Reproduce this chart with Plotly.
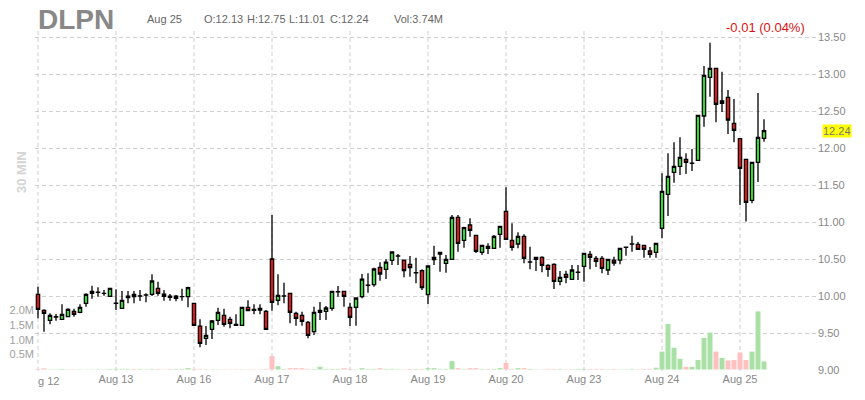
import plotly.graph_objects as go

# ---------------- data ----------------
days = ["Aug 12", "Aug 13", "Aug 16", "Aug 17", "Aug 18", "Aug 19", "Aug 20", "Aug 23", "Aug 24", "Aug 25"]
bars_per_day = [13, 13, 13, 13, 13, 13, 13, 13, 13, 5]
times = ["09:30", "10:00", "10:30", "11:00", "11:30", "12:00", "12:30",
         "13:00", "13:30", "14:00", "14:30", "15:00", "15:30"]

opens = [
    10.024, 9.807, 9.672, 9.717, 9.686, 9.722, 9.794, 9.780, 9.902, 10.037, 10.050, 10.036, 9.997,
    9.901, 9.834, 9.979, 10.024, 10.000, 10.015, 10.024, 10.105, 10.028, 10.001, 9.970, 9.992, 9.992,
    9.902, 9.595, 9.429, 9.550, 9.672, 9.740, 9.686, 9.618, 9.604, 9.848, 9.821, 9.834, 9.794,
    10.502, 9.943, 10.000, 10.037, 9.767, 9.740, 9.645, 9.519, 9.780, 9.794, 9.834, 10.059, 10.065,
    9.848, 9.848, 9.992, 10.145, 10.155, 10.389, 10.362, 10.484, 10.542, 10.488, 10.430, 10.316, 10.344,
    10.019, 10.493, 10.570, 10.443, 10.498, 11.066, 10.755, 10.962, 10.822, 10.592, 10.673, 10.646, 10.836,
    11.147, 10.755, 10.705, 10.809, 10.460, 10.498, 10.525, 10.416, 10.430, 10.200, 10.295, 10.227, 10.321,
    10.403, 10.565, 10.511, 10.511, 10.353, 10.488, 10.488, 10.659, 10.704, 10.700, 10.687, 10.610, 10.592,
    10.917, 11.377, 11.675, 11.756, 11.851, 11.796, 11.837, 12.437, 12.960, 13.082, 12.609, 12.690, 12.338,
    12.130, 11.851, 11.296, 11.810, 12.135,
]
highs = [
    10.128, 9.821, 9.767, 9.758, 9.889, 9.834, 9.830, 9.889, 10.037, 10.141, 10.119, 10.083, 10.114,
    10.092, 10.069, 10.069, 10.069, 10.083, 10.037, 10.295, 10.195, 10.083, 10.028, 10.015, 10.101, 10.128,
    9.911, 9.686, 9.595, 9.677, 9.843, 9.830, 9.722, 9.753, 9.857, 9.943, 9.889, 9.889, 9.812,
    11.097, 10.295, 10.182, 10.040, 9.789, 9.789, 9.663, 9.857, 9.920, 9.866, 10.068, 10.137, 10.068,
    9.911, 9.977, 10.299, 10.308, 10.385, 10.457, 10.498, 10.606, 10.570, 10.490, 10.543, 10.520, 10.362,
    10.416, 10.682, 10.601, 10.556, 11.097, 11.097, 10.940, 11.052, 10.825, 10.690, 10.714, 10.827, 10.953,
    11.472, 10.985, 10.863, 10.836, 10.669, 10.528, 10.538, 10.430, 10.443, 10.340, 10.344, 10.421, 10.421,
    10.582, 10.610, 10.543, 10.543, 10.500, 10.534, 10.649, 10.669, 10.818, 10.732, 10.690, 10.664, 10.717,
    11.661, 11.932, 12.081, 12.148, 11.932, 11.991, 12.450, 13.114, 13.429, 13.085, 13.037, 12.789, 12.667,
    12.135, 11.855, 11.815, 12.750, 12.392,
]
lows = [
    9.699, 9.519, 9.618, 9.668, 9.677, 9.713, 9.722, 9.767, 9.857, 9.965, 9.992, 10.006, 9.992,
    9.812, 9.830, 9.902, 9.902, 9.934, 9.916, 10.001, 10.006, 9.938, 9.938, 9.929, 9.938, 9.848,
    9.595, 9.307, 9.338, 9.419, 9.609, 9.586, 9.564, 9.595, 9.595, 9.800, 9.753, 9.753, 9.541,
    9.803, 9.875, 9.902, 9.631, 9.600, 9.600, 9.429, 9.474, 9.677, 9.677, 9.803, 9.992, 9.857,
    9.595, 9.600, 9.970, 10.046, 10.128, 10.209, 10.231, 10.421, 10.421, 10.254, 10.263, 10.173, 10.083,
    9.893, 10.421, 10.331, 10.317, 10.488, 10.601, 10.655, 10.804, 10.583, 10.556, 10.570, 10.637, 10.655,
    10.759, 10.615, 10.646, 10.443, 10.362, 10.340, 10.322, 10.263, 10.096, 10.146, 10.173, 10.225, 10.218,
    10.195, 10.362, 10.394, 10.308, 10.286, 10.412, 10.430, 10.547, 10.601, 10.624, 10.520, 10.520, 10.520,
    10.782, 11.084, 11.535, 11.639, 11.652, 11.693, 11.833, 12.293, 12.699, 12.351, 12.491, 12.194, 12.081,
    11.233, 11.010, 11.255, 11.544, 12.090,
]
closes = [
    9.821, 9.767, 9.740, 9.722, 9.753, 9.821, 9.753, 9.848, 10.024, 10.065, 10.052, 10.038, 10.105,
    9.903, 9.943, 10.001, 9.992, 10.002, 10.016, 10.204, 10.037, 9.997, 9.983, 10.001, 9.994, 10.114,
    9.604, 9.361, 9.469, 9.663, 9.780, 9.618, 9.631, 9.604, 9.848, 9.803, 9.807, 9.812, 9.550,
    9.916, 10.010, 10.002, 9.780, 9.699, 9.659, 9.469, 9.780, 9.807, 9.839, 10.065, 10.061, 9.997,
    9.713, 9.974, 10.231, 10.147, 10.367, 10.299, 10.461, 10.597, 10.544, 10.344, 10.385, 10.318, 10.114,
    10.407, 10.525, 10.592, 10.498, 11.066, 10.714, 10.926, 10.890, 10.606, 10.687, 10.646, 10.809, 10.944,
    10.768, 10.660, 10.809, 10.511, 10.462, 10.525, 10.416, 10.362, 10.200, 10.254, 10.254, 10.353, 10.323,
    10.579, 10.525, 10.470, 10.376, 10.498, 10.448, 10.646, 10.661, 10.706, 10.633, 10.633, 10.565, 10.714,
    11.418, 11.621, 11.756, 11.878, 11.810, 11.798, 12.446, 12.987, 13.082, 12.595, 12.640, 12.383, 12.243,
    11.729, 11.269, 11.810, 12.148, 12.240,
]
volumes_m = [
    0.02, 0.04, 0.01, 0.01, 0.02, 0.01, 0.01, 0.01, 0.01, 0.01, 0.01, 0.01, 0.02,
    0.02, 0.02, 0.02, 0.02, 0.02, 0.01, 0.02, 0.02, 0.01, 0.02, 0.02, 0.02, 0.045,
    0.02, 0.02, 0.01, 0.01, 0.01, 0.01, 0.01, 0.01, 0.01, 0.01, 0.01, 0.01, 0.02,
    0.45, 0.11, 0.02, 0.045, 0.045, 0.045, 0.02, 0.02, 0.09, 0.02, 0.02, 0.02, 0.045,
    0.02, 0.01, 0.045, 0.02, 0.02, 0.045, 0.02, 0.02, 0.01, 0.01, 0.02, 0.02, 0.02,
    0.045, 0.045, 0.02, 0.02, 0.28, 0.045, 0.02, 0.045, 0.045, 0.02, 0.02, 0.02, 0.045,
    0.22, 0.02, 0.045, 0.045, 0.02, 0.01, 0.01, 0.02, 0.02, 0.02, 0.01, 0.01, 0.02,
    0.02, 0.02, 0.02, 0.02, 0.01, 0.02, 0.01, 0.01, 0.02, 0.01, 0.02, 0.02, 0.06,
    0.60, 1.53, 0.73, 0.36, 0.09, 0.09, 0.32, 1.06, 1.24, 0.60, 0.39, 0.30, 0.32,
    0.57, 0.32, 0.60, 1.95, 0.27,
]
price_ticks = [9.0, 9.5, 10.0, 10.5, 11.0, 11.5, 12.0, 12.5, 13.0, 13.5]
volume_ticks = [0.5, 1.0, 1.5, 2.0]
volume_tick_labels = ["0.5M", "1.0M", "1.5M", "2.0M"]

ticker = "DLPN"
header_date = "Aug 25"
header_fields = ["O:12.13", "H:12.75", "L:11.01", "C:12.24", "Vol:3.74M"]
change_text = "-0.01 (0.04%)"
last_price = 12.24

# ---------------- build ----------------
x = [f"{d} {t}" for d, n in zip(days, bars_per_day) for t in times[:n]]
assert len(x) == len(opens) == len(highs) == len(lows) == len(closes) == len(volumes_m)

day_starts = []
k = 0
for n in bars_per_day:
    day_starts.append(x[k])
    k += n

GREEN = "#22e822"
RED = "#ee1111"
VGREEN = "#a9e0a5"
VRED = "#ffc0c0"
vol_colors = [VGREEN if c >= o else VRED for o, c in zip(opens, closes)]

W, H = 865, 400
L, R, T, B = 35, 817, 30, 371          # plot area in pixels


def px(xp):
    return (xp - L) / (R - L)


def py(yp):
    return (B - yp) / (B - T)


fig = go.Figure()

fig.add_trace(go.Bar(
    x=x, y=volumes_m, marker=dict(color=vol_colors, line=dict(width=0)),
    yaxis="y", hoverinfo="skip", showlegend=False,
))

fig.add_trace(go.Candlestick(
    x=x, open=opens, high=highs, low=lows, close=closes,
    yaxis="y2", showlegend=False,
    increasing=dict(line=dict(color="#000000", width=1.3), fillcolor=GREEN),
    decreasing=dict(line=dict(color="#000000", width=1.3), fillcolor=RED),
    whiskerwidth=0,
))

font_family = "Liberation Sans, Arial, sans-serif"

fig.update_layout(
    width=W, height=H,
    margin=dict(l=L, r=W - R, t=T, b=H - B, pad=0, autoexpand=False),
    paper_bgcolor="white", plot_bgcolor="white",
    font=dict(family=font_family, size=11, color="#888888"),
    bargap=0.17, boxgap=0.22,
    showlegend=False,
    hovermode=False,
    xaxis=dict(
        type="category", categoryorder="array", categoryarray=x,
        range=[-0.5, (R - 38) / 6.0],
        rangeslider=dict(visible=False),
        tickmode="array", tickvals=day_starts[1:], ticktext=days[1:],
        showgrid=False, zeroline=False, showline=False, ticks="",
        tickfont=dict(size=11, color="#888888"), automargin=False,
    ),
    yaxis=dict(
        side="left", range=[(369.5 - B) / 29.8, (369.5 - T) / 29.8],
        tickmode="array", tickvals=volume_ticks, ticktext=volume_tick_labels,
        showgrid=False, zeroline=False, showline=False, ticks="",
        tickfont=dict(size=11, color="#a0a0a0"), automargin=False,
    ),
    yaxis2=dict(
        overlaying="y", side="right",
        range=[9 + (370 - B) / 73.9, 9 + (370 - T) / 73.9],
        tickmode="array", tickvals=price_ticks,
        ticktext=[f"{v:.2f}" for v in price_ticks],
        showgrid=True, gridcolor="#cfcfcf", griddash="4px,3px", gridwidth=1,
        zeroline=False, showline=False, ticks="",
        tickfont=dict(size=11, color="#888888"), automargin=False,
    ),
)

# vertical day grid lines
for ds in day_starts:
    fig.add_shape(type="line", xref="x", yref="paper", x0=ds, x1=ds, y0=0, y1=1,
                  line=dict(color="#cfcfcf", width=1, dash="4px,3px"), layer="below")

ann = []
ann.append(dict(text=ticker, x=px(36), y=py(19), xanchor="left", yanchor="middle",
                font=dict(size=28, color="#888888", weight="bold")))
ann.append(dict(text=header_date, x=px(145), y=py(19), xanchor="left", yanchor="middle",
                font=dict(size=11, color="#666666")))
for txt, xl in zip(header_fields, [202, 245, 287, 328, 392]):
    ann.append(dict(text=txt, x=px(xl), y=py(19), xanchor="left", yanchor="middle",
                    font=dict(size=11, color="#666666")))
ann.append(dict(text=change_text, x=px(807), y=py(27), xanchor="right", yanchor="middle",
                font=dict(size=13, color="#dd1111")))
ann.append(dict(text="30 MIN", x=px(21), y=py(172), xanchor="center", yanchor="middle",
                textangle=-90, font=dict(size=13, color="#d4d4d4", weight="bold")))
ann.append(dict(text="g 12", x=px(36), y=py(381), xanchor="left", yanchor="middle",
                font=dict(size=11, color="#888888")))
for a in ann:
    a.update(xref="paper", yref="paper", showarrow=False)
fig.update_layout(annotations=ann)

fig.add_annotation(text=f"{last_price:.2f}", xref="paper", yref="y2", x=1, y=last_price,
                   xanchor="left", yanchor="middle", xshift=5, showarrow=False,
                   bgcolor="#ffff00", borderpad=0,
                   font=dict(size=11, color="#777777"))

# remove the browser's default 8px page margin so the figure sits at (0, 0)
fig.write_html("out.html",
               config={"displayModeBar": False, "staticPlot": True},
               post_script="document.body.style.margin='0';document.body.style.overflow='hidden';")
